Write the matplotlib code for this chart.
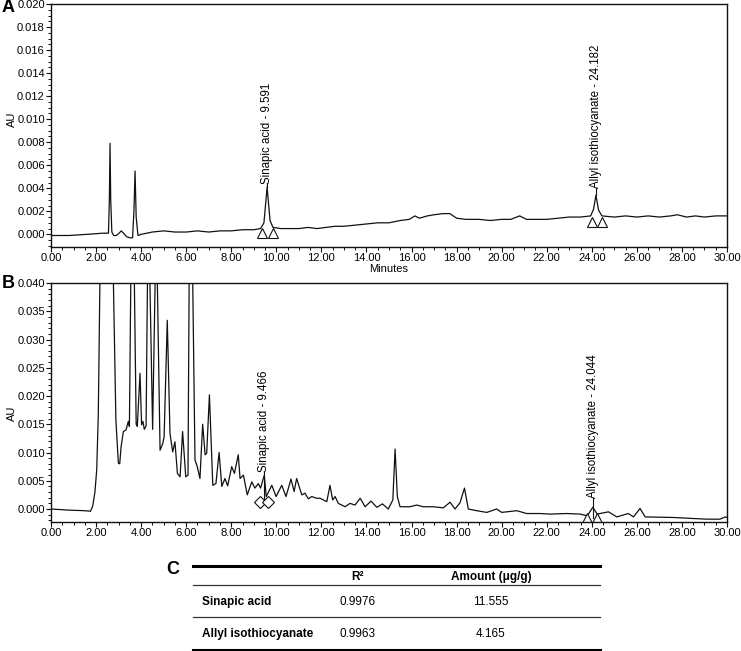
import matplotlib
matplotlib.use("Agg")
import matplotlib.pyplot as plt
from matplotlib.ticker import MultipleLocator, FormatStrFormatter
from matplotlib.lines import Line2D

plt.rcParams['font.family'] = ['Liberation Sans', 'DejaVu Sans']

# ---------------- data ----------------
# Panel A: standard chromatogram (time in min, absorbance AU)
a_time = [0.0, 0.8, 1.6, 2.3, 2.55, 2.59, 2.62, 2.65, 2.70, 2.78, 2.9, 3.02, 3.12, 3.22, 3.35, 3.5, 3.62,
          3.68, 3.73, 3.78, 3.86, 4.0, 4.5, 5.0, 5.5, 6.0, 6.5, 7.0, 7.5, 8.0, 8.5, 9.0, 9.3, 9.45,
          9.591, 9.72, 9.85, 10.2, 10.6, 11.0, 11.4, 11.8, 12.2, 12.6, 13.0, 13.5, 14.0, 14.5, 15.0,
          15.5, 15.9, 16.15, 16.35, 16.7, 17.0, 17.4, 17.7, 18.0, 18.4, 19.0, 19.5, 20.0, 20.4, 20.8,
          21.1, 21.5, 22.0, 22.5, 23.0, 23.5, 23.95, 24.08, 24.182, 24.3, 24.45, 25.0, 25.5, 26.0,
          26.5, 27.0, 27.5, 27.8, 28.2, 28.6, 29.0, 29.5, 30.0]
a_au = [-0.0001, -0.0001, 0.0000, 0.0001, 0.0001, 0.0030, 0.0079, 0.0030, 0.0002, -0.0001, -0.0001,
        0.0001, 0.0003, 0.0001, -0.0002, -0.0003, -0.0003, 0.0020, 0.0055, 0.0015, -0.0001, 0.0000,
        0.0002, 0.0003, 0.0002, 0.0002, 0.0003, 0.0002, 0.0003, 0.0003, 0.0004, 0.0004, 0.0005,
        0.0010, 0.0041, 0.0012, 0.0006, 0.0005, 0.0005, 0.0005, 0.0006, 0.0005, 0.0006, 0.0007,
        0.0007, 0.0008, 0.0009, 0.0010, 0.0010, 0.0012, 0.0013, 0.0016, 0.0014, 0.0016, 0.0017,
        0.0018, 0.0018, 0.0014, 0.0013, 0.0013, 0.0012, 0.0013, 0.0013, 0.0016, 0.0013, 0.0013,
        0.0013, 0.0014, 0.0015, 0.0015, 0.0016, 0.0022, 0.0034, 0.0021, 0.0016, 0.0015, 0.0016,
        0.0015, 0.0016, 0.0015, 0.0016, 0.0017, 0.0015, 0.0016, 0.0015, 0.0016, 0.0016]

# Panel B: sample chromatogram
b_time = [0.0, 0.8, 1.5, 1.75, 1.85, 1.95, 2.03, 2.10, 2.17, 2.20, 2.5, 2.74, 2.77, 2.88, 2.99, 3.05,
          3.11, 3.21, 3.33, 3.43, 3.48, 3.54, 3.62, 3.70, 3.78, 3.83, 3.95, 4.02, 4.08, 4.14, 4.22,
          4.28, 4.33, 4.39, 4.51, 4.62, 4.67, 4.72, 4.84, 4.96, 5.02, 5.16, 5.28, 5.40, 5.50, 5.61,
          5.73, 5.84, 5.98, 6.08, 6.13, 6.21, 6.29, 6.39, 6.49, 6.61, 6.73, 6.84, 6.91, 7.03, 7.18,
          7.32, 7.46, 7.58, 7.72, 7.84, 8.02, 8.14, 8.31, 8.39, 8.54, 8.71, 8.91, 9.05, 9.2, 9.3,
          9.466, 9.55, 9.8, 9.99, 10.24, 10.43, 10.65, 10.79, 10.9, 11.13, 11.27, 11.42, 11.57,
          11.79, 11.94, 12.24, 12.38, 12.5, 12.61, 12.75, 13.05, 13.27, 13.49, 13.72, 13.94, 14.2,
          14.46, 14.71, 14.97, 15.17, 15.27, 15.37, 15.49, 15.93, 16.23, 16.52, 16.97, 17.41, 17.71,
          17.93, 18.15, 18.35, 18.52, 18.89, 19.34, 19.78, 20.0, 20.67, 21.11, 21.7, 22.15, 22.89,
          23.48, 23.8, 24.044, 24.24, 24.74, 25.11, 25.62, 25.85, 26.14, 26.37, 27.62, 29.1, 29.69,
          29.92, 30.0]
b_au = [0.0000, -0.0002, -0.0003, -0.0004, 0.0005, 0.0030, 0.0070, 0.0170, 0.0400, 0.0500, 0.0900,
        0.0500, 0.0400, 0.0157, 0.0081, 0.0080, 0.0110, 0.0137, 0.0140, 0.0155, 0.0146, 0.0400,
        0.0600, 0.0400, 0.0150, 0.0146, 0.0240, 0.0149, 0.0155, 0.0141, 0.0147, 0.0400, 0.0550,
        0.0400, 0.0141, 0.0400, 0.0500, 0.0400, 0.0104, 0.0116, 0.0128, 0.0334, 0.0134, 0.0101,
        0.0119, 0.0063, 0.0057, 0.0137, 0.0057, 0.0060, 0.0400, 0.0600, 0.0400, 0.0087, 0.0075,
        0.0054, 0.0150, 0.0096, 0.0099, 0.0202, 0.0042, 0.0045, 0.0100, 0.0040, 0.0054, 0.0041,
        0.0075, 0.0063, 0.0096, 0.0054, 0.0060, 0.0025, 0.0048, 0.0037, 0.0045, 0.0037, 0.0060,
        0.0022, 0.0042, 0.0022, 0.0042, 0.0022, 0.0053, 0.0031, 0.0054, 0.0025, 0.0028, 0.0018,
        0.0022, 0.0019, 0.0019, 0.0013, 0.0042, 0.0016, 0.0022, 0.0010, 0.0004, 0.0010, 0.0007,
        0.0019, 0.0004, 0.0014, 0.0003, 0.0009, 0.0000, 0.0016, 0.0106, 0.0022, 0.0004, 0.0004,
        0.0007, 0.0004, 0.0004, 0.0002, 0.0012, 0.0000, 0.0011, 0.0037, 0.0000, -0.0003, -0.0006,
        0.0000, -0.0006, -0.0003, -0.0008, -0.0008, -0.0009, -0.0008, -0.0009, -0.0012, 0.0003,
        -0.0009, -0.0005, -0.0014, -0.0008, -0.0014, 0.0001, -0.0014, -0.0015, -0.0018, -0.0018,
        -0.0014, -0.0015]

# peak annotations: name, retention time, peak apex, label base, marker times, marker level
a_peaks = ["Sinapic acid", "Allyl isothiocyanate"]
a_rt = [9.591, 24.182]
a_apex = [0.0041, 0.0034]
a_textbase = [0.00435, 0.0040]
a_marks = [(9.35, 9.84), (24.0, 24.44)]
a_mark_level = [0.0001, 0.0011]

b_peaks = ["Sinapic acid", "Allyl isothiocyanate"]
b_rt = [9.466, 24.044]
b_apex = [0.0060, 0.0003]
b_textbase = [0.0065, 0.0020]
b_marks = [(9.28, 9.65), (23.78, 24.22)]
b_mark_level = [0.0013, -0.0016]
b_mark_style = ['D', '^']

# Table C
tbl_header = ["", "R\u00b2", "Amount (\u03bcg/g)"]
tbl_compounds = ["Sinapic acid", "Allyl isothiocyanate"]
tbl_r2 = ["0.9976", "0.9963"]
tbl_amount = ["11.555", "4.165"]

# ---------------- figure ----------------
W, H = 741, 651
fig = plt.figure(figsize=(W / 100, H / 100), dpi=100)
INK = '#111111'


def px_box(l, t, r, b):
    return [l / W, 1 - b / H, (r - l) / W, (b - t) / H]


def style_axes(ax, ymaj, ymin, ylim):
    ax.set_xlim(0, 30)
    ax.set_ylim(*ylim)
    ax.xaxis.set_major_locator(MultipleLocator(2))
    ax.xaxis.set_minor_locator(MultipleLocator(0.5))
    ax.yaxis.set_major_locator(MultipleLocator(ymaj))
    ax.yaxis.set_minor_locator(MultipleLocator(ymin))
    ax.xaxis.set_major_formatter(FormatStrFormatter('%.2f'))
    ax.yaxis.set_major_formatter(FormatStrFormatter('%.3f'))
    ax.tick_params(which='major', direction='out', length=3.5, width=0.8, labelsize=8, pad=1, color=INK)
    ax.tick_params(which='minor', direction='out', length=2.2, width=0.7, color=INK)
    for s in ax.spines.values():
        s.set_linewidth(1.0)
        s.set_color(INK)


axA = fig.add_axes(px_box(51, 4, 727, 247))
axA.plot(a_time, a_au, color=INK, lw=0.9)
style_axes(axA, 0.002, 0.0005, (-0.0011, 0.020))
for name, rt, ap, tb, mk, ml in zip(a_peaks, a_rt, a_apex, a_textbase, a_marks, a_mark_level):
    axA.plot([rt, rt], [ap, tb], color=INK, lw=0.8)
    axA.text(rt, tb, f"{name} - {rt:.3f}", rotation=90, ha='center', va='bottom', fontsize=8.3)
    axA.plot(list(mk), [ml, ml], ls='none', marker='^', ms=7, mfc='white', mec=INK, mew=0.8)

axB = fig.add_axes(px_box(51, 283, 727, 522))
axB.plot(b_time, b_au, color=INK, lw=0.9)
style_axes(axB, 0.005, 0.001, (-0.0023, 0.040))
for name, rt, ap, tb, mk, ml, ms in zip(b_peaks, b_rt, b_apex, b_textbase, b_marks, b_mark_level, b_mark_style):
    axB.plot([rt, rt], [ml, tb], color=INK, lw=0.8)
    axB.text(rt, tb, f"{name} - {rt:.3f}", rotation=90, ha='center', va='bottom', fontsize=8.3)
    axB.plot(list(mk), [ml, ml], ls='none', marker=ms, ms=6 if ms == 'D' else 7,
             mfc='white', mec=INK, mew=0.8)

# overlay in pixel coordinates for labels and table
ov = fig.add_axes([0, 0, 1, 1], zorder=-1)
ov.set_xlim(0, W)
ov.set_ylim(H, 0)
ov.axis('off')

ov.text(8, 8, "A", fontsize=13, fontweight='bold', ha='center', va='center')
ov.text(8, 284, "B", fontsize=13, fontweight='bold', ha='center', va='center')
ov.text(173, 569, "C", fontsize=13, fontweight='bold', ha='center', va='center')
ov.text(12, 119, "AU", rotation=90, fontsize=8, ha='center', va='center')
ov.text(12, 413, "AU", rotation=90, fontsize=8, ha='center', va='center')
ov.text(389, 269, "Minutes", fontsize=8, ha='center', va='center')

# table
x0, x1 = 193, 600
ov.add_line(Line2D([x0, x1], [566, 566], color='black', lw=2.2))
ov.add_line(Line2D([x0, x1], [585, 585], color='#333333', lw=0.9))
ov.add_line(Line2D([x0, x1], [617, 617], color='#333333', lw=0.9))
ov.add_line(Line2D([x0, x1], [650, 650], color='black', lw=2.2))
col_x = [202, 358, 491]
ov.text(col_x[1], 577, tbl_header[1], fontsize=8.5, fontweight='bold', ha='center', va='center')
ov.text(col_x[2], 577, tbl_header[2], fontsize=8.5, fontweight='bold', ha='center', va='center')
for i, (c, r2, am) in enumerate(zip(tbl_compounds, tbl_r2, tbl_amount)):
    y = 602 + 32 * i
    ov.text(col_x[0], y, c, fontsize=8.5, fontweight='bold', ha='left', va='center')
    ov.text(col_x[1], y, r2, fontsize=8.5, ha='center', va='center')
    ov.text(col_x[2], y, am, fontsize=8.5, ha='center', va='center')

fig.savefig("out.png", dpi=100)
